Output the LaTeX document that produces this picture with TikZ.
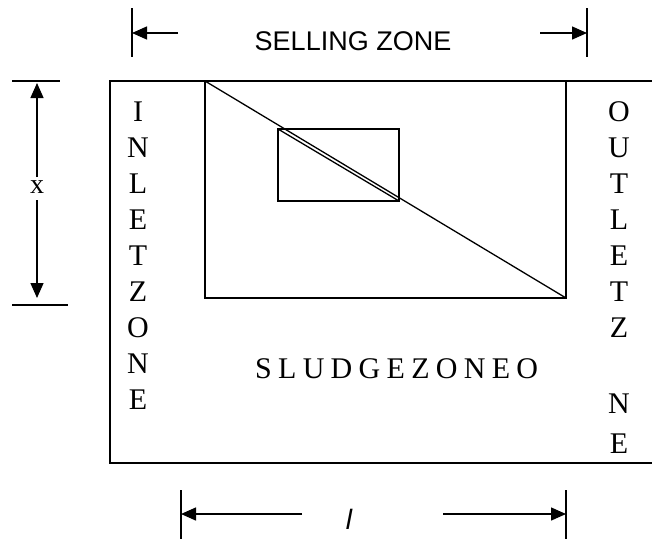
\documentclass[tikz,border=0pt]{standalone}
\usepackage{fontspec}
\setmainfont{Liberation Serif}
\newfontfamily\arialfont{Liberation Sans}
\newfontfamily\spacedserif[LetterSpace=21]{Liberation Serif}
\usetikzlibrary{arrows.meta}

\begin{document}
\begin{tikzpicture}[x=1pt,y=-1pt,
  outer/.style={line width=1.9pt},
  inner/.style={line width=1.3pt},
  dimline/.style={line width=1.4pt},
  dimarrow/.style={line width=1.4pt,-{Triangle[length=15pt,width=13pt]}},
  letter/.style={font=\fontsize{30}{30}\selectfont, inner sep=0pt, anchor=base},
  sanslabel/.style={font=\arialfont\fontsize{27}{27}\selectfont, inner sep=0pt, anchor=base},
]
\fill[white] (0,0) rectangle (652,539);
\useasboundingbox (0,0) rectangle (652,539);

% outer tank (open to the right)
\coordinate (otr) at (652,81);
\coordinate (otl) at (110,81);
\coordinate (obl) at (110,463);
\coordinate (obr) at (652,463);
\draw[outer] (otr) -- (otl) -- (obl) -- (obr);

% settling zone rectangle and diagonal
\coordinate (itl) at (205,81);
\coordinate (ibr) at (566,298);
\draw[inner] (itl) rectangle (ibr);
\draw[inner] (itl) -- (ibr);

% small particle box and its path
\coordinate (stl) at (278,129);
\coordinate (sbr) at (399,201);
\draw[inner] (stl) rectangle (sbr);
\draw[inner] (stl) -- (sbr);

% top dimension: SELLING ZONE
\coordinate (tlt) at (132,8);  \coordinate (tlb) at (132,57);
\coordinate (trt) at (587,8);  \coordinate (trb) at (587,57);
\draw[dimline] (tlt) -- (tlb);
\draw[dimline] (trt) -- (trb);
\coordinate (tla) at (178,33); \coordinate (tlh) at (132,33);
\coordinate (tra) at (540,33); \coordinate (trh) at (587,33);
\draw[dimarrow] (tla) -- (tlh);
\draw[dimarrow] (tra) -- (trh);
\node[sanslabel] (sell) at (353,50) {SELLING ZONE};

% left dimension: x
\coordinate (lta) at (12,81);  \coordinate (ltb) at (60,81);
\coordinate (lba) at (12,305); \coordinate (lbb) at (68,305);
\draw[dimline] (lta) -- (ltb);
\draw[dimline] (lba) -- (lbb);
\node[font=\fontsize{28}{28}\selectfont, inner sep=0pt, anchor=base] (xlab) at (37,193) {x};
\coordinate (xu) at (37,177); \coordinate (xut) at (37,83);
\coordinate (xd) at (37,200); \coordinate (xdt) at (37,298);
\draw[dimarrow] (xu) -- (xut);
\draw[dimarrow] (xd) -- (xdt);

% bottom dimension: l
\coordinate (blt) at (181,490); \coordinate (blb) at (181,539);
\coordinate (brt) at (566,490); \coordinate (brb) at (566,539);
\draw[dimline] (blt) -- (blb);
\draw[dimline] (brt) -- (brb);
\coordinate (bla) at (302,514); \coordinate (blh) at (181,514);
\coordinate (bra) at (443,514); \coordinate (brh) at (566,514);
\draw[dimarrow] (bla) -- (blh);
\draw[dimarrow] (bra) -- (brh);
\node[font=\arialfont\itshape\fontsize{28}{28}\selectfont, inner sep=0pt, anchor=base] (llab) at (349,529) {l};

% inlet zone letters
\node[letter] (i1) at (138,121) {I};
\node[letter] (i2) at (138,157) {N};
\node[letter] (i3) at (138,193) {L};
\node[letter] (i4) at (138,229) {E};
\node[letter] (i5) at (138,265) {T};
\node[letter] (i6) at (138,301) {Z};
\node[letter] (i7) at (138,337) {O};
\node[letter] (i8) at (138,373) {N};
\node[letter] (i9) at (138,409) {E};

% outlet zone letters
\node[letter] (o1) at (619,121) {O};
\node[letter] (o2) at (619,157) {U};
\node[letter] (o3) at (619,193) {T};
\node[letter] (o4) at (619,229) {L};
\node[letter] (o5) at (619,265) {E};
\node[letter] (o6) at (619,301) {T};
\node[letter] (o7) at (619,337) {Z};
\node[letter] (o8) at (619,413) {N};
\node[letter] (o9) at (619,453) {E};

% sludge zone
\node[font=\spacedserif\fontsize{30}{30}\selectfont, inner sep=0pt, anchor=base west] (sludge) at (255,378) {SLUDGEZONEO};
\end{tikzpicture}
\end{document}
